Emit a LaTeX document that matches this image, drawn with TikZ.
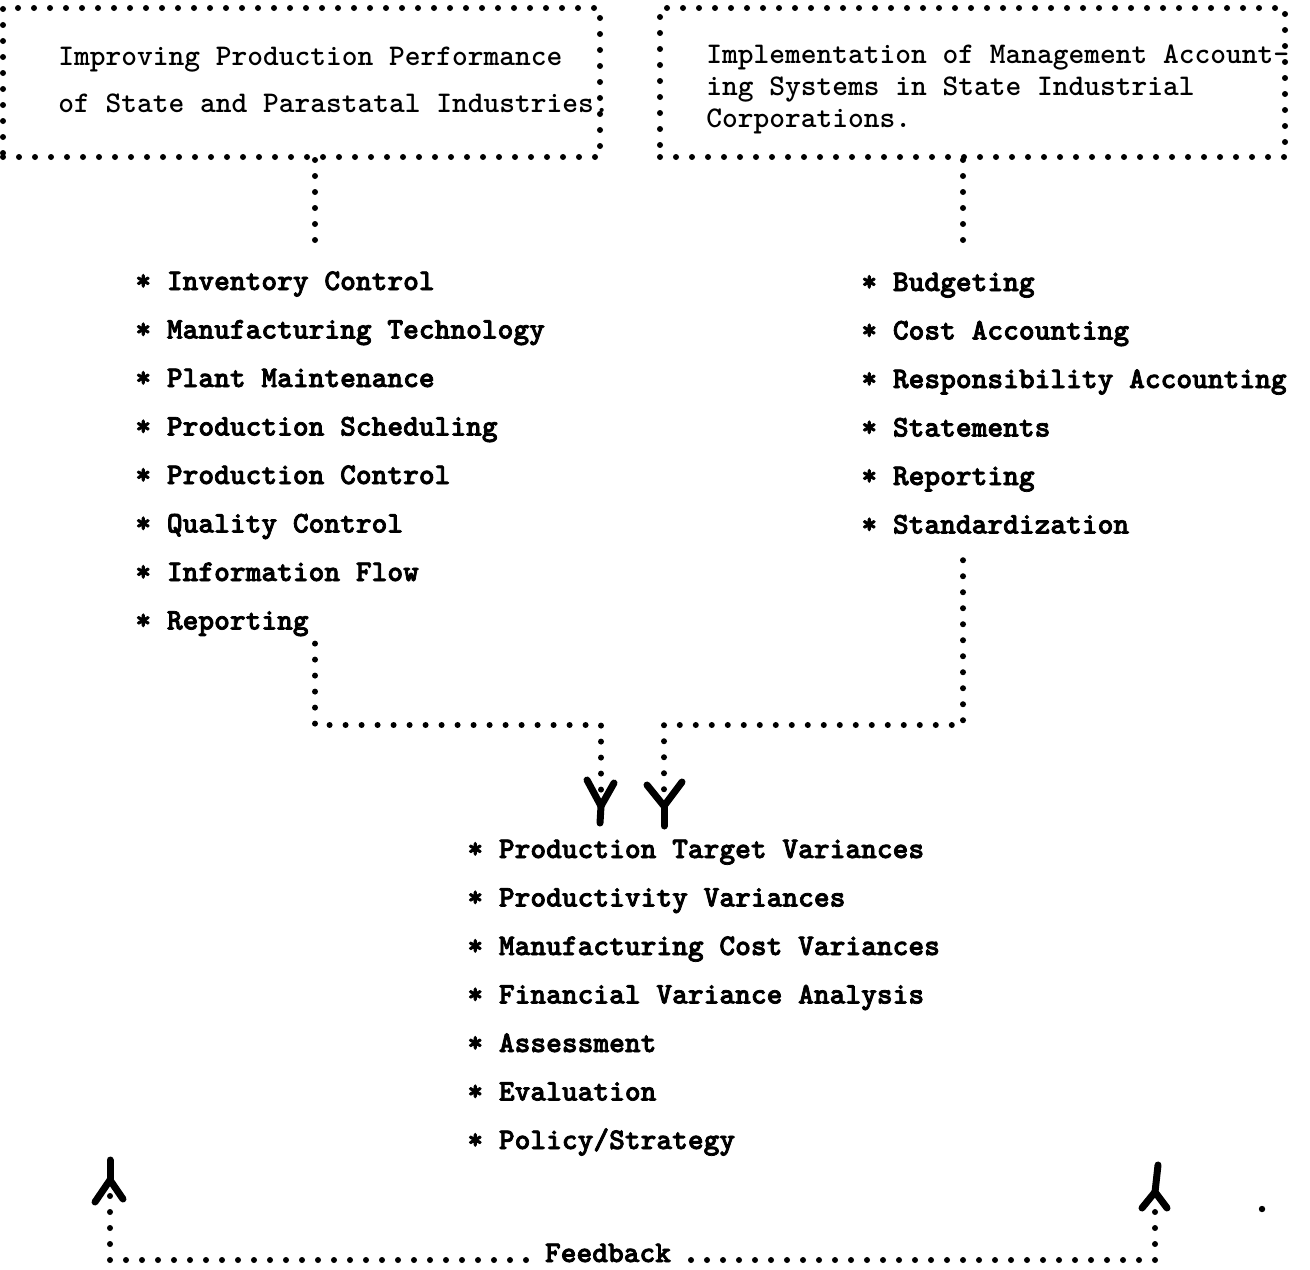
\documentclass[tikz,border=0pt]{standalone}
\usepackage{fontspec}
\newfontfamily\typefont{lmmonolt10-bold.otf}
\newfontfamily\heavyfont{lmmonolt10-bold.otf}[FakeBold=2.5]
\tikzset{
    dotline/.style={line width=3pt, line cap=round, dash pattern=on 0pt off 8pt},
    dotbox/.style={draw, dotline, minimum width=#1, minimum height=74.5pt, inner sep=0pt},
    boxtext/.style={anchor=west, align=left, inner sep=0pt, font=\fontsize{15}{#1}\selectfont\typefont},
    item/.style={anchor=base west, inner sep=0pt, font=\fontsize{15}{18}\selectfont\heavyfont},
    ytip/.style={line width=3.5pt, line cap=round, line join=round}
}
\begin{document}
\begin{tikzpicture}[x=0.5pt, y=-0.5pt]
    \useasboundingbox (0,0) rectangle (1310,1269);
    % the two headings
    \node[dotbox=298.5pt] (pbox) at (301.5,82.5) {};
    \node[dotbox=312.5pt] (abox) at (972.5,82.5) {};
    \node[boxtext=23.5pt] (ptext) at (58,80) {Improving Production Performance\\of State and Parastatal Industries.};
    \node[boxtext=16pt] (atext) at (706,89) {Implementation of Management Account-\\ing Systems in State Industrial\\Corporations.};
    % the lists
    \foreach \txt [count=\i] in {Inventory Control, Manufacturing Technology, Plant Maintenance,
        Production Scheduling, Production Control, Quality Control, Information Flow, Reporting}
        \node[item] (pl\i) at (135,{241.5+48.5*\i}) {* \txt};
    \foreach \txt [count=\i] in {Budgeting, Cost Accounting, Responsibility Accounting,
        Statements, Reporting, Standardization}
        \node[item] (al\i) at (861,{242.5+48.5*\i}) {* \txt};
    \foreach \txt [count=\i] in {Production Target Variances, Productivity Variances,
        Manufacturing Cost Variances, Financial Variance Analysis, Assessment, Evaluation,
        Policy/Strategy}
        \node[item] (vl\i) at (467,{809.5+48.5*\i}) {* \txt};
    % dotted connectors
    \coordinate (ptop) at (315,240);
    \coordinate (atop) at (963,240);
    \draw[dotline] (pbox.south -| ptop) -- (ptop);
    \draw[dotline] (abox.south -| atop) -- (atop);
    \coordinate (pbend) at (315,725);
    \coordinate (abend) at (963,725);
    \coordinate (pin) at (601,806);
    \coordinate (ain) at (664,806);
    \draw[dotline] ([yshift=-3.5pt]pl8.south -| pbend) -- (pbend) -- (pbend -| pin) -- ([yshift=6pt]pin);
    \draw[dotline] ([yshift=-13pt]al6.south -| abend) -- (abend) -- (abend -| ain) -- ([yshift=6pt]ain);
    \draw[ytip] ([shift={(-14,-26)}]pin) -- (pin) -- ([shift={(13,-23)}]pin);
    \draw[ytip] (pin) -- ++(-1,17);
    \draw[ytip] ([shift={(-17,-21)}]ain) -- (ain) -- ([shift={(18,-24)}]ain);
    \draw[ytip] (ain) -- ++(0,20);
    % feedback
    \node[item, anchor=base, inner xsep=8pt] (fb) at (608,1262) {Feedback};
    \coordinate (fbl) at (110,1260);
    \coordinate (fbr) at (1155,1260);
    \coordinate (fbin) at (110,1180);
    \coordinate (fbout) at (1155,1192);
    \draw[dotline] ([yshift=-8pt]fbin) -- (fbl) -- (fbl -| fb.west);
    \draw[dotline] ([yshift=-10pt]fbout) -- (fbr) -- (fbr -| fb.east);
    \draw[ytip] ([shift={(-15,22)}]fbin) -- (fbin) -- ([shift={(13,19)}]fbin);
    \draw[ytip] (fbin) -- ++(0,-20);
    \draw[ytip] ([shift={(-13,16)}]fbout) -- (fbout) -- ([shift={(12,16)}]fbout);
    \draw[ytip] (fbout) -- ++(3,-27);
    \fill (1262,1209) circle (1.6pt);
\end{tikzpicture}
\end{document}
